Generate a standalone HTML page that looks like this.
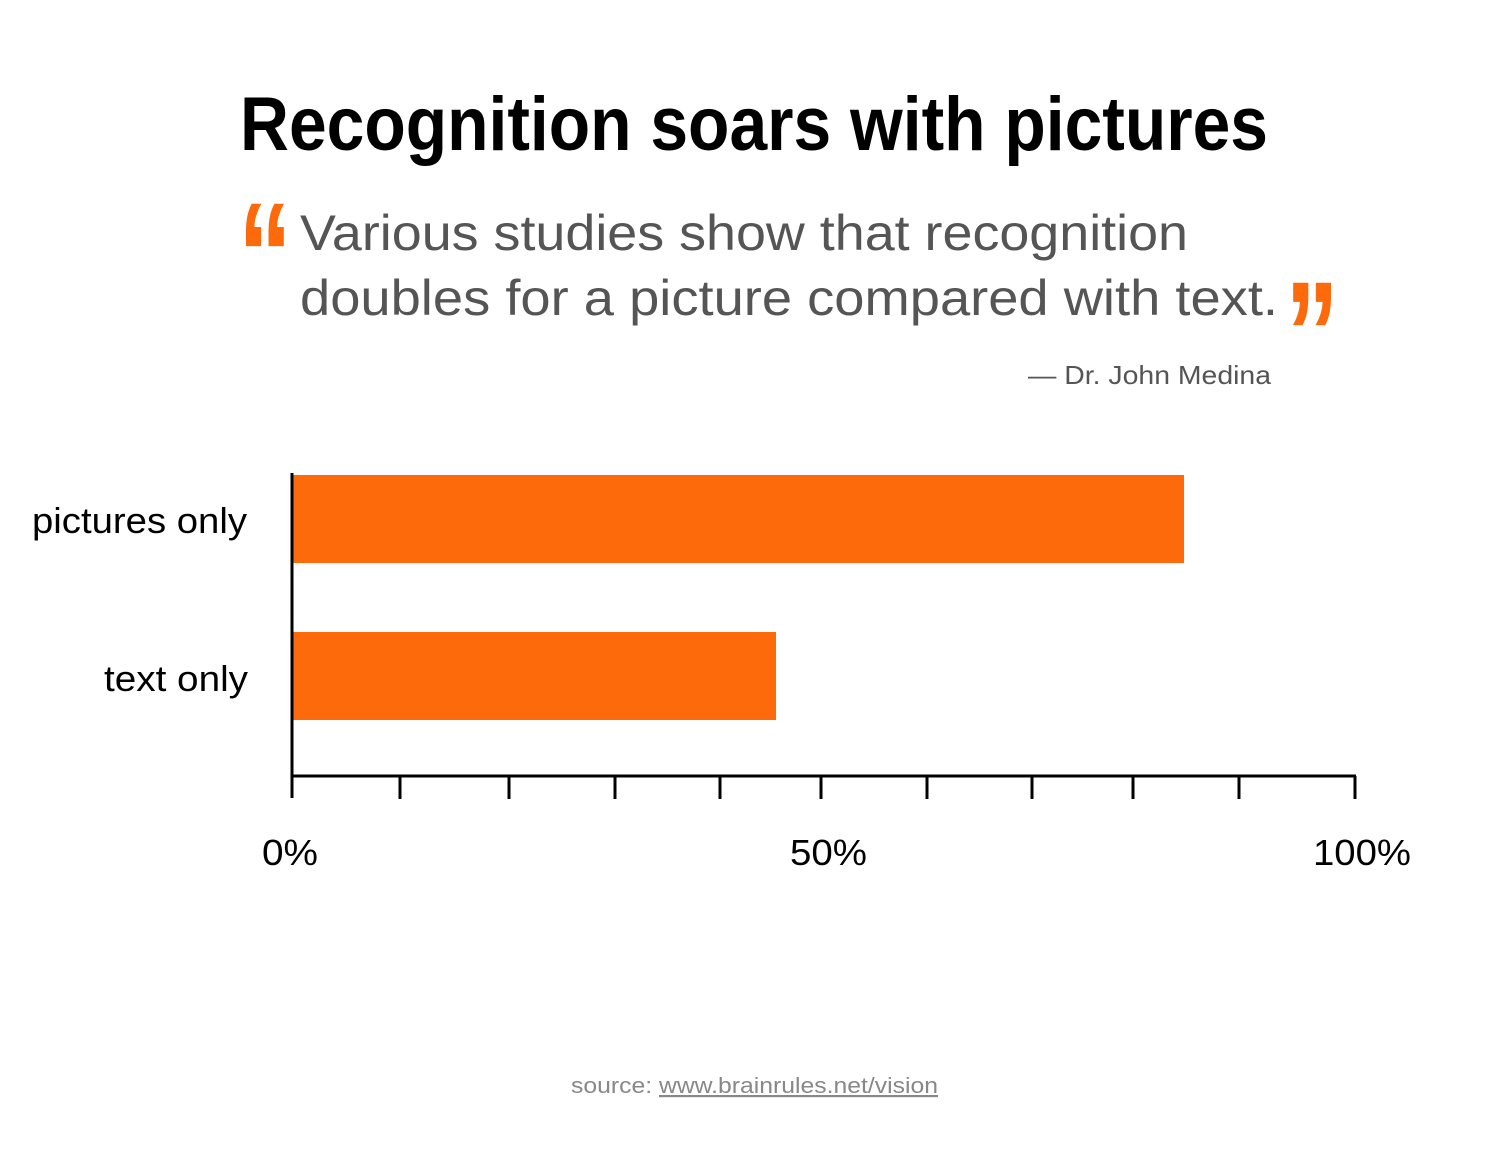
<!DOCTYPE html>
<html><head><meta charset="utf-8"><style>
html,body{margin:0;padding:0;background:#fff;}
svg{display:block;}
</style></head><body>
<svg width="1500" height="1155" viewBox="0 0 1500 1155" xmlns="http://www.w3.org/2000/svg">
<rect width="1500" height="1155" fill="#fff"/>
<text x="240" y="150" font-family="Liberation Sans, sans-serif" font-weight="bold" font-size="76" textLength="1028" lengthAdjust="spacingAndGlyphs" fill="#000">Recognition soars with pictures</text>
<text x="238" y="307" font-family="Liberation Sans, sans-serif" font-weight="bold" font-size="150" textLength="54" lengthAdjust="spacingAndGlyphs" fill="#fc6a0c">“</text>
<text x="1285" y="386" font-family="Liberation Sans, sans-serif" font-weight="bold" font-size="150" textLength="54" lengthAdjust="spacingAndGlyphs" fill="#fc6a0c">”</text>
<text x="300" y="250" font-family="Liberation Sans, sans-serif" font-size="50" textLength="888" lengthAdjust="spacingAndGlyphs" fill="#555">Various studies show that recognition</text>
<text x="300" y="315" font-family="Liberation Sans, sans-serif" font-size="50" textLength="978" lengthAdjust="spacingAndGlyphs" fill="#555">doubles for a picture compared with text.</text>
<text x="1028" y="384" font-family="Liberation Sans, sans-serif" font-size="26" textLength="243" lengthAdjust="spacingAndGlyphs" fill="#555">— Dr. John Medina</text>
<rect x="292" y="475" width="892" height="88" fill="#fc6a0c"/>
<rect x="292" y="632" width="484" height="88" fill="#fc6a0c"/>
<line x1="292" y1="473" x2="292" y2="798" stroke="#000" stroke-width="3"/>
<line x1="291" y1="776" x2="1356" y2="776" stroke="#000" stroke-width="3"/>
<g stroke="#000" stroke-width="3">
<line x1="400" y1="776" x2="400" y2="799"/><line x1="509" y1="776" x2="509" y2="799"/>
<line x1="615" y1="776" x2="615" y2="799"/><line x1="720" y1="776" x2="720" y2="799"/>
<line x1="821" y1="776" x2="821" y2="799"/><line x1="927" y1="776" x2="927" y2="799"/>
<line x1="1032" y1="776" x2="1032" y2="799"/><line x1="1133" y1="776" x2="1133" y2="799"/>
<line x1="1239" y1="776" x2="1239" y2="799"/><line x1="1355" y1="776" x2="1355" y2="799"/>
</g>
<g font-family="Liberation Sans, sans-serif" font-size="36" fill="#000" lengthAdjust="spacingAndGlyphs">
<text x="32" y="533" textLength="215" lengthAdjust="spacingAndGlyphs">pictures only</text>
<text x="104" y="691" textLength="144" lengthAdjust="spacingAndGlyphs">text only</text>
<text x="262" y="865" textLength="56" lengthAdjust="spacingAndGlyphs">0%</text>
<text x="790" y="865" textLength="77" lengthAdjust="spacingAndGlyphs">50%</text>
<text x="1313" y="865" textLength="98" lengthAdjust="spacingAndGlyphs">100%</text>
</g>
<text x="571" y="1093" font-family="Liberation Sans, sans-serif" font-size="22" fill="#888" textLength="367" lengthAdjust="spacingAndGlyphs">source: <tspan text-decoration="underline">www.brainrules.net/vision</tspan></text>
</svg>
</body></html>
